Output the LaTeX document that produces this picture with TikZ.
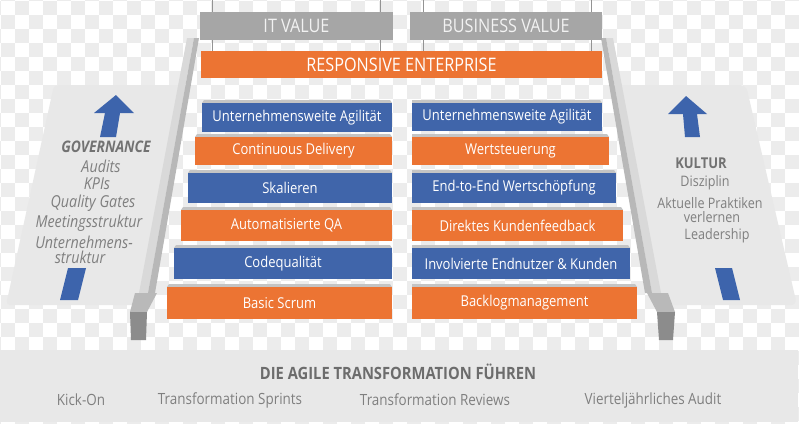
\documentclass[tikz,border=0pt]{standalone}
\usepackage{fontspec}
\setmainfont{Open Sans}[FakeStretch=0.87]
\usetikzlibrary{positioning,calc}
\definecolor{stepblue}{HTML}{4065AA}
\definecolor{steporange}{HTML}{EC7433}
\definecolor{valuegray}{HTML}{A6A6A6}
\definecolor{panelgray}{HTML}{E8E8E8}
\definecolor{railface}{HTML}{D9D9D9}
\definecolor{railside}{HTML}{B8B8B8}
\definecolor{capgray}{HTML}{8C8C8C}
\definecolor{lipgray}{HTML}{C4C4C4}
\definecolor{textgray}{HTML}{7F7F7F}
\definecolor{arrowblue}{HTML}{3D64AC}
\definecolor{checkgray}{HTML}{ECECEC}
\tikzset{
  stepbox/.style={inner sep=0pt, text=white, font=\fontsize{15}{17}\selectfont},
  valuebox/.style={inner sep=0pt, fill=valuegray, text=white!95!black,
    font=\fontsize{18.7}{20}\selectfont},
  sidetext/.style={inner sep=0pt, text=textgray, font=\fontsize{14.5}{16}\selectfont},
  govtext/.style={inner sep=0pt, text=textgray, font=\fontsize{16.5}{18}\selectfont\itshape},
  basetext/.style={inner sep=0pt, text=textgray, font=\fontsize{15.5}{17}\selectfont},
  rope/.style={draw=gray!85, line width=1bp}
}

\begin{document}
\begin{tikzpicture}[x=1bp, y=-1bp]
    \useasboundingbox (0,0) rectangle (800,423);
    \clip (0,0) rectangle (800,423);

    % Hintergrund (Schachbrett)
    \fill[white] (0,0) rectangle (800,423);
    \foreach \i in {0,...,57}{
        \pgfmathtruncatemacro{\off}{mod(\i+1,2)}
        \foreach \j in {0,2,...,30}
            \fill[checkgray] ({-13+14*\i},{-13+14*(\j+\off)}) rectangle ++(14,14);
    }

    % Seitenwaende
    \fill[panelgray, rounded corners=4bp] (54,85) -- (186,85) -- (146,305) -- (6,305) -- cycle;
    \fill[panelgray, rounded corners=6bp] (614,85) -- (746,85) -- (797,305) -- (654,305) -- cycle;

    % Schienen links und rechts
    \fill[railface] (187,38) -- (194,38) -- (148,293) -- (139,293) -- cycle;
    \fill[railside] (194,38) -- (199,38) -- (155,293) -- (148,293) -- cycle;
    \fill[railface] (606,38) -- (613,38) -- (661,293) -- (652,293) -- cycle;
    \fill[railside] (601,38) -- (606,38) -- (652,293) -- (645,293) -- cycle;
    \fill[gray!55] (135,293) -- (157,293) -- (147,312) -- (130,312) -- cycle;
    \fill[capgray] (130,312) -- (147,312) -- (146,340) -- (131,340) -- cycle;
    \fill[gray!55] (647,293) -- (668,293) -- (675,312) -- (657,312) -- cycle;
    \fill[capgray] (657,312) -- (675,312) -- (673,340) -- (659,340) -- cycle;

    % Pfeile
    \fill[arrowblue] (116,95) -- (134,113) -- (120,113) -- (116,137) -- (100,137) -- (105,113) -- (94,113) -- cycle;
    \fill[arrowblue] (68,268) -- (86,268) -- (78,300) -- (60,300) -- cycle;
    \fill[arrowblue] (686,96) -- (707,114) -- (697,114) -- (700,137) -- (685,137) -- (683,114) -- (668,114) -- cycle;
    \fill[arrowblue] (715,268) -- (732,268) -- (740,300) -- (723,300) -- cycle;

    % Seile
    \foreach \rx in {212,380,423,591}
        \draw[rope] (\rx,0) -- (\rx,51);

    % Ziele oben
    \node[valuebox, minimum width=193bp, minimum height=28bp] (itval) at (296.5,26) {IT VALUE};
    \node[valuebox, minimum width=192bp, minimum height=28bp] (busval) at (506,26) {BUSINESS VALUE};
    \node[stepbox, fill=steporange, minimum width=401bp, minimum height=27bp,
          font=\fontsize{18.7}{20}\selectfont] (resp) at (401.5,64.5) {RESPONSIVE ENTERPRISE};

    % Stufen links
    \foreach \i/\xa/\ya/\yb/\col/\txt in {
        1/202/103/132/stepblue/Unternehmensweite Agilität,
        2/195/137/165/steporange/Continuous Delivery,
        3/188/173/203/stepblue/Skalieren,
        4/181/210/241/steporange/Automatisierte QA,
        5/174/248/279/stepblue/Codequalität,
        6/167/287/319/steporange/Basic Scrum}{
        \fill[lipgray] (\xa+2,\ya-3) -- (390,\ya-3) -- (392,\ya) -- (\xa,\ya) -- cycle;
        \node[stepbox, fill=\col, minimum width={(392-\xa)*1bp}, minimum height={(\yb-\ya)*1bp}]
            (L\i) at ({(\xa+392)/2},{(\ya+\yb)/2}) {\txt};
    }

    % Stufen rechts
    \foreach \i/\xb/\ya/\yb/\col/\txt in {
        1/602/103/131/stepblue/Unternehmensweite Agilität,
        2/609/137/165/steporange/Wertsteuerung,
        3/616/173/203/stepblue/End-to-End Wertschöpfung,
        4/623/210/241/steporange/Direktes Kundenfeedback,
        5/630/248/279/stepblue/Involvierte Endnutzer \& Kunden,
        6/637/287/319/steporange/Backlogmanagement}{
        \fill[lipgray] (412,\ya-3) -- (\xb-2,\ya-3) -- (\xb,\ya) -- (412,\ya) -- cycle;
        \node[stepbox, fill=\col, minimum width={(\xb-412)*1bp}, minimum height={(\yb-\ya)*1bp}]
            (R\i) at ({(\xb+412)/2},{(\ya+\yb)/2}) {\txt};
    }

    % Governance
    \node[govtext, font=\fontsize{16}{18}\selectfont\bfseries\itshape, text=textgray!90!black] (gov) at (106,147) {GOVERNANCE};
    \node[govtext] (gov1) at (101,166) {Audits};
    \node[govtext] (gov2) at (97,184) {KPIs};
    \node[govtext] (gov3) at (93,203) {Quality Gates};
    \node[govtext] (gov4) at (89,223) {Meetingsstruktur};
    \node[govtext] (gov5) at (84,242) {Unternehmens-};
    \node[govtext] (gov6) at (80,257) {struktur};

    % Kultur
    \node[sidetext, font=\fontsize{15}{17}\selectfont\bfseries, text=textgray!90!black] (kul) at (701,163) {KULTUR};
    \node[sidetext] (kul1) at (705,183) {Disziplin};
    \node[sidetext] (kul2) at (710,203) {Aktuelle Praktiken};
    \node[sidetext] (kul3) at (712,217) {verlernen};
    \node[sidetext] (kul4) at (717,236) {Leadership};

    % Basis
    \fill[panelgray] (0,350) rectangle (798,422);
    \node[basetext, font=\fontsize{17}{19}\selectfont\bfseries, text=textgray!85!black] (base) at (398,372) {DIE AGILE TRANSFORMATION FÜHREN};
    \node[basetext] (b1) at (81,400) {Kick-On};
    \node[basetext] (b2) at (230,400) {Transformation Sprints};
    \node[basetext] (b3) at (435,400) {Transformation Reviews};
    \node[basetext] (b4) at (653,400) {Vierteljährliches Audit};
\end{tikzpicture}
\end{document}
